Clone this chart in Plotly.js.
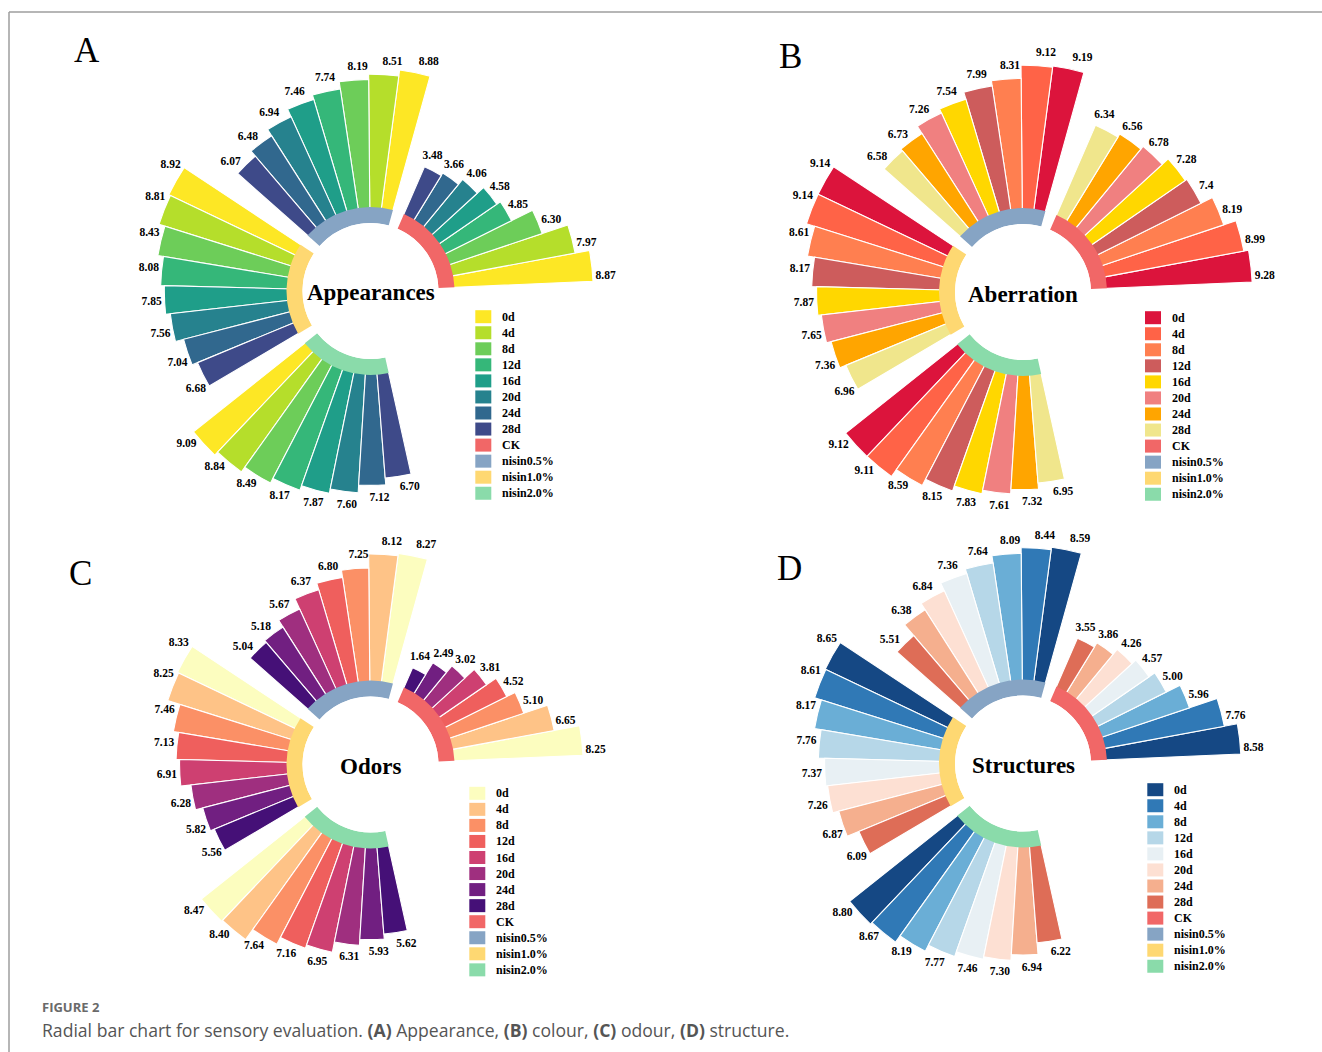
<!DOCTYPE html>
<html>
<head>
<meta charset="utf-8">
<script src="https://cdn.plot.ly/plotly-3.0.1.min.js"></script>
<style>
  html, body { margin: 0; padding: 0; background: #ffffff; }
  #chart { width: 1322px; height: 1052px; }
</style>
</head>
<body>
<div id="chart"></div>
<script>
// ---- categories ----
const days = ['0d', '4d', '8d', '12d', '16d', '20d', '24d', '28d'];
const groups = ['CK', 'nisin0.5%', 'nisin1.0%', 'nisin2.0%'];
const groupColors = ['#F16767', '#86A4C4', '#FED872', '#8ADBAA'];

// ---- sensory scores (kept as the printed strings) ----
// Appearances
const appCK  = ['8.87', '7.97', '6.30', '4.85', '4.58', '4.06', '3.66', '3.48'];
const appN05 = ['8.88', '8.51', '8.19', '7.74', '7.46', '6.94', '6.48', '6.07'];
const appN10 = ['8.92', '8.81', '8.43', '8.08', '7.85', '7.56', '7.04', '6.68'];
const appN20 = ['9.09', '8.84', '8.49', '8.17', '7.87', '7.60', '7.12', '6.70'];
// Aberration
const abeCK  = ['9.28', '8.99', '8.19', '7.4', '7.28', '6.78', '6.56', '6.34'];
const abeN05 = ['9.19', '9.12', '8.31', '7.99', '7.54', '7.26', '6.73', '6.58'];
const abeN10 = ['9.14', '9.14', '8.61', '8.17', '7.87', '7.65', '7.36', '6.96'];
const abeN20 = ['9.12', '9.11', '8.59', '8.15', '7.83', '7.61', '7.32', '6.95'];
// Odors
const odoCK  = ['8.25', '6.65', '5.10', '4.52', '3.81', '3.02', '2.49', '1.64'];
const odoN05 = ['8.27', '8.12', '7.25', '6.80', '6.37', '5.67', '5.18', '5.04'];
const odoN10 = ['8.33', '8.25', '7.46', '7.13', '6.91', '6.28', '5.82', '5.56'];
const odoN20 = ['8.47', '8.40', '7.64', '7.16', '6.95', '6.31', '5.93', '5.62'];
// Structures
const strCK  = ['8.58', '7.76', '5.96', '5.00', '4.57', '4.26', '3.86', '3.55'];
const strN05 = ['8.59', '8.44', '8.09', '7.64', '7.36', '6.84', '6.38', '5.51'];
const strN10 = ['8.65', '8.61', '8.17', '7.76', '7.37', '7.26', '6.87', '6.09'];
const strN20 = ['8.80', '8.67', '8.19', '7.77', '7.46', '7.30', '6.94', '6.22'];

// ---- day palettes ----
const viridisDays = ['#FDE725', '#B5DE2B', '#6DCD59', '#35B779', '#1F9E89', '#26828E', '#31688E', '#3E4A89'];
const warmDays    = ['#DC143C', '#FF6347', '#FF7F50', '#CD5C5C', '#FFD700', '#F08080', '#FFA500', '#F0E68C'];
const magmaDays   = ['#FCFDBF', '#FEC387', '#FB9066', '#EF5F5D', '#CE4071', '#9F2F7F', '#711F81', '#451077'];
const blueRedDays = ['#154884', '#3079B6', '#6AAED6', '#B6D7E8', '#E8F0F4', '#FDE0D3', '#F5AF8E', '#DE6D57'];

// ---- page geometry ----
const W = 1322, H = 1052;
const R = 252;                 // polar radius in px (room for the outer labels)
const HOLE_PX = 68;            // inner radius of the group ring
const RING_OUT_PX = 84;        // outer radius of the group ring
const R0_PX = 79;              // where a score of 0 sits
const PX_PER_UNIT = 16.2;
const rLo = (HOLE_PX - R0_PX) / PX_PER_UNIT;
const rHi = (R - R0_PX) / PX_PER_UNIT;
const ringTop = (RING_OUT_PX - R0_PX) / PX_PER_UNIT;

const SLOT = 8, GROUP_STEP = 72, START = 2.5;
const barTheta = (g, i) => START + g * GROUP_STEP + i * SLOT + SLOT / 2;
const groupTheta = g => START + g * GROUP_STEP + SLOT * days.length / 2;

const px2x = px => px / W;
const py2y = py => 1 - py / H;

const serif = 'Liberation Serif, Times New Roman, serif';

const panels = [
  { id: 'polar',  title: 'Appearances', letter: 'A', series: [appCK, appN05, appN10, appN20], colors: viridisDays,
    cx: 370.5, cy: 291,   letterXY: [86.5, 50.5],  legendXY: [475.3, 316.7] },
  { id: 'polar2', title: 'Aberration',  letter: 'B', series: [abeCK, abeN05, abeN10, abeN20], colors: warmDays,
    cx: 1023,  cy: 292,   letterXY: [790.5, 56.5], legendXY: [1145, 317.7] },
  { id: 'polar3', title: 'Odors',       letter: 'C', series: [odoCK, odoN05, odoN10, odoN20], colors: magmaDays,
    cx: 370.5, cy: 764.5, letterXY: [80.5, 573],   legendXY: [469.3, 793.3] },
  { id: 'polar4', title: 'Structures',  letter: 'D', series: [strCK, strN05, strN10, strN20], colors: blueRedDays,
    cx: 1023,  cy: 763.5, letterXY: [790, 568.3],  legendXY: [1147.3, 789.7] }
];

const traces = [];
const annotations = [];
const shapes = [];
const layout = {
  width: W, height: H,
  margin: { l: 0, r: 0, t: 0, b: 0 },
  paper_bgcolor: '#ffffff',
  showlegend: false,
  font: { family: serif, color: '#000000' }
};

panels.forEach(p => {
  // day bars, one trace per storage day across the four treatments
  days.forEach((d, i) => {
    traces.push({
      type: 'barpolar',
      subplot: p.id,
      name: d,
      r: p.series.map(s => Number(s[i])),
      theta: groups.map((_, g) => barTheta(g, i)),
      width: SLOT,
      base: 0,
      marker: { color: p.colors[i], line: { color: '#ffffff', width: 1.1 } },
      hovertemplate: '%{r}<extra>' + d + '</extra>'
    });
  });
  // treatment ring on top of the bar roots
  traces.push({
    type: 'barpolar',
    subplot: p.id,
    name: 'groups',
    r: groups.map(() => ringTop - rLo),
    base: rLo,
    theta: groups.map((_, g) => groupTheta(g)),
    width: SLOT * days.length,
    marker: { color: groupColors, line: { width: 0 } },
    hoverinfo: 'skip'
  });
  // value labels just beyond each bar end
  const lr = [], lt = [], ltxt = [];
  p.series.forEach((s, g) => s.forEach((v, i) => {
    lr.push(Number(v) + 0.8);
    lt.push(barTheta(g, i) + (i - 3.5) * 0.8);
    ltxt.push('<b>' + v + '</b>');
  }));
  traces.push({
    type: 'scatterpolar',
    subplot: p.id,
    mode: 'text',
    cliponaxis: false,
    r: lr, theta: lt, text: ltxt,
    textposition: 'middle center',
    textfont: { family: serif, size: 11.5, color: '#000000' },
    hoverinfo: 'skip'
  });

  layout[p.id] = {
    domain: { x: [px2x(p.cx - R), px2x(p.cx + R)], y: [py2y(p.cy + R), py2y(p.cy - R)] },
    hole: HOLE_PX / R,
    bgcolor: 'rgba(0,0,0,0)',
    barmode: 'overlay',
    radialaxis: { range: [rLo, rHi], visible: false, showgrid: false },
    angularaxis: { visible: false, showgrid: false, showline: false, rotation: 0, direction: 'counterclockwise' }
  };

  // centre title
  annotations.push({
    xref: 'paper', yref: 'paper', x: px2x(p.cx), y: py2y(p.cy + 2),
    xanchor: 'center', yanchor: 'middle', showarrow: false,
    text: '<b>' + p.title + '</b>',
    font: { family: serif, size: 23, color: '#000000' }
  });
  // panel letter
  annotations.push({
    xref: 'paper', yref: 'paper', x: px2x(p.letterXY[0]), y: py2y(p.letterXY[1]),
    xanchor: 'center', yanchor: 'middle', showarrow: false,
    text: p.letter,
    font: { family: serif, size: 35, color: '#000000' }
  });

  // legend: storage days then treatments
  const legendNames = days.concat(groups);
  const legendColors = p.colors.concat(groupColors);
  legendNames.forEach((name, k) => {
    const y = p.legendXY[1] + k * 16.05;
    shapes.push({
      type: 'rect', xref: 'paper', yref: 'paper', layer: 'above',
      x0: px2x(p.legendXY[0]), x1: px2x(p.legendXY[0] + 16),
      y0: py2y(y + 6.5), y1: py2y(y - 6.5),
      fillcolor: legendColors[k], line: { width: 0 }
    });
    annotations.push({
      xref: 'paper', yref: 'paper', x: px2x(p.legendXY[0] + 25), y: py2y(y),
      xanchor: 'left', yanchor: 'middle', showarrow: false,
      text: '<b>' + name + '</b>',
      font: { family: serif, size: 12, color: '#000000' }
    });
  });
});

// figure frame (top and left rules)
shapes.push({ type: 'line', xref: 'paper', yref: 'paper', x0: px2x(9), x1: 1, y0: py2y(12), y1: py2y(12),
  line: { color: '#9E9E9E', width: 1.5 } });
shapes.push({ type: 'line', xref: 'paper', yref: 'paper', x0: px2x(9), x1: px2x(9), y0: py2y(12), y1: 0,
  line: { color: '#9E9E9E', width: 1.5 } });

// caption
annotations.push({
  xref: 'paper', yref: 'paper', x: px2x(40), y: py2y(1007),
  xanchor: 'left', yanchor: 'middle', showarrow: false,
  text: '<b>FIGURE 2</b>',
  font: { family: 'Open Sans, Lato, sans-serif', size: 13, color: '#6A6A6A' }
});
annotations.push({
  xref: 'paper', yref: 'paper', x: px2x(40), y: py2y(1030),
  xanchor: 'left', yanchor: 'middle', showarrow: false,
  text: 'Radial bar chart for sensory evaluation. <b>(A)</b> Appearance, <b>(B)</b> colour, <b>(C)</b> odour, <b>(D)</b> structure.',
  font: { family: 'Open Sans, Lato, sans-serif', size: 17.6, color: '#555555' }
});

layout.annotations = annotations;
layout.shapes = shapes;

Plotly.newPlot('chart', traces, layout, { displayModeBar: false, staticPlot: true });
</script>
</body>
</html>
